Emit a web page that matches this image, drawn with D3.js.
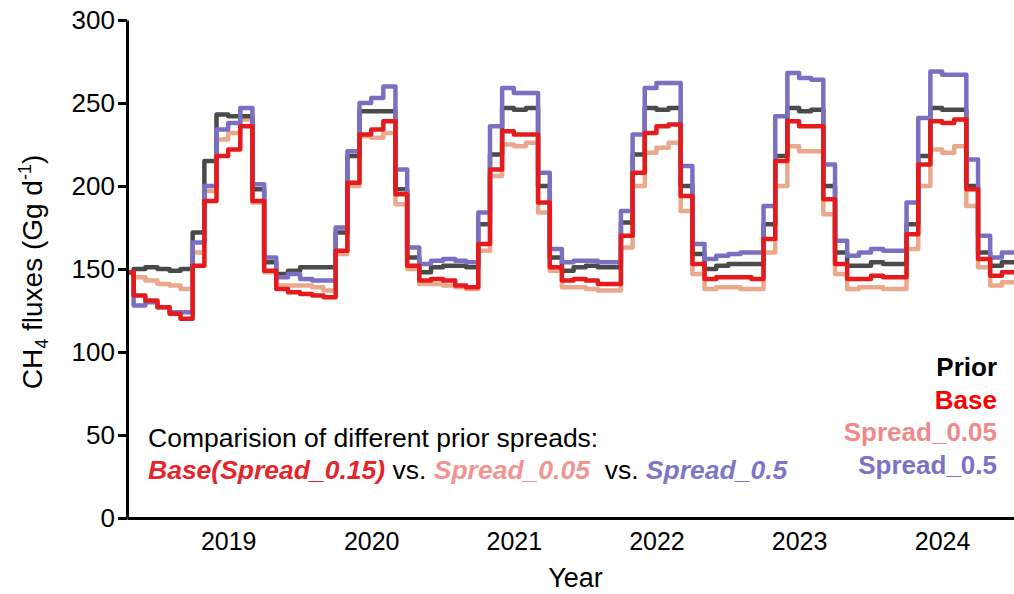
<!DOCTYPE html>
<html>
<head>
<meta charset="utf-8">
<script src="https://cdn.jsdelivr.net/npm/d3@7"></script>
<style>
  html, body { margin: 0; padding: 0; background: #fff; }
  svg { display: block; font-family: "Liberation Sans", Arial, Helvetica, sans-serif; }
</style>
</head>
<body>
<svg id="chart" width="1014" height="594"></svg>
<script>
// ---- Data (monthly, Oct 2018 .. Dec 2024) ----
const firstMonth = [2018, 9];      // year, month index (Oct 2018)
const firstDay = 22;               // series starts late in first month
const prior = [148,150,151,
  150,149,150,172,215,243,242,242,198,154,147,149,
  151,151,151,172,218,245,245,245,198,157,148,151,
  152,152,151,177,219,247,246,247,200,157,149,151,
  152,151,151,178,219,247,246,247,200,159,150,152,
  153,153,153,177,218,247,245,246,200,160,152,152,
  154,153,153,177,218,247,246,246,200,160,152,154];
const base = [148,134,131,
  127,123,120,152,191,218,222,236,191,149,138,136,
  135,134,133,161,202,231,234,239,195,152,143,144,
  143,140,139,165,210,233,231,231,190,151,143,144,
  143,141,141,170,208,232,236,237,194,153,144,145,
  145,145,144,168,215,239,236,236,192,153,144,144,
  146,145,145,171,213,239,238,240,198,156,146,148];
const spread005 = [148,145,143,
  141,140,138,160,197,228,232,240,190,148,140,140,
  140,139,137,159,200,230,229,232,189,150,141,141,
  140,139,138,161,206,225,224,226,184,149,139,139,
  138,137,137,163,200,220,223,226,185,147,138,139,
  139,138,138,160,200,224,221,221,183,147,138,139,
  139,138,138,162,200,222,220,224,188,151,140,142];
const spread05 = [148,128,130,
  127,124,124,166,200,234,238,247,201,157,145,147,
  144,143,143,175,221,250,253,260,210,163,153,155,
  156,155,154,184,236,259,256,256,208,162,154,155,
  155,154,154,185,231,259,262,262,212,165,156,158,
  159,160,160,188,242,268,265,264,213,167,158,160,
  162,161,161,190,241,269,267,267,216,170,157,160];
const yTicks = [0, 50, 100, 150, 200, 250, 300];
const yearLabels = [2019, 2020, 2021, 2022, 2023, 2024];
const seriesNames = ["Spread_0.05", "Prior", "Spread_0.5", "Base"];

// ---- Layout ----
const svg = d3.select("#chart");
const mLeft = 127, mRight = 1014, mTop = 20, mBottom = 518;

const x = d3.scaleTime()
  .domain([new Date(2018, 9, 15), new Date(2025, 0, 1)])
  .range([mLeft, mRight]);
const y = d3.scaleLinear().domain([0, 300]).range([mBottom, mTop]);

function toPoints(vals) {
  const pts = vals.map((v, i) => {
    const d = i === 0 ? new Date(firstMonth[0], firstMonth[1], firstDay)
                      : new Date(firstMonth[0], firstMonth[1] + i, 1);
    return { date: d, value: v };
  });
  pts.push({ date: new Date(firstMonth[0], firstMonth[1] + vals.length, 1), value: vals[vals.length - 1] });
  return pts;
}

const series = {
  "Spread_0.05": { vals: spread005, color: "#eaa98c" },
  "Prior":       { vals: prior,     color: "#4a4a4a" },
  "Spread_0.5":  { vals: spread05,  color: "#7a70c2" },
  "Base":        { vals: base,      color: "#e41a1c" }
};

const line = d3.line()
  .x(d => x(d.date))
  .y(d => y(d.value))
  .curve(d3.curveStepAfter);

const gLines = svg.append("g");
seriesNames.forEach(name => {
  gLines.append("path")
    .datum(toPoints(series[name].vals))
    .attr("fill", "none")
    .attr("stroke", series[name].color)
    .attr("stroke-width", 4.5)
    .attr("stroke-linejoin", "round")
    .attr("stroke-linecap", "round")
    .attr("d", line);
});

// ---- Axes ----
const yAxis = d3.axisLeft(y).tickValues(yTicks).tickSize(9).tickSizeOuter(0).tickPadding(3);
const gy = svg.append("g").attr("transform", `translate(${mLeft},0)`).call(yAxis);
gy.select(".domain").attr("stroke", "#000").attr("stroke-width", 3);
gy.selectAll(".tick line").attr("stroke", "#000").attr("stroke-width", 3);
gy.selectAll(".tick text").attr("font-size", 26).attr("fill", "#000")
  .attr("font-family", "'Liberation Sans', Arial, sans-serif");

const xAxis = d3.axisBottom(x)
  .tickValues(yearLabels.map(yr => new Date(yr, 6, 1)))
  .tickFormat(d3.timeFormat("%Y"))
  .tickSize(0).tickSizeOuter(0).tickPadding(14);
const gx = svg.append("g").attr("transform", `translate(0,${mBottom})`).call(xAxis);
gx.select(".domain").attr("stroke", "#000").attr("stroke-width", 3);
gx.selectAll(".tick text").attr("font-size", 25).attr("fill", "#000")
  .attr("font-family", "'Liberation Sans', Arial, sans-serif");

// Axis titles
svg.append("text")
  .attr("x", (mLeft + mRight) / 2 + 5).attr("y", 587)
  .attr("text-anchor", "middle").attr("font-size", 27).attr("fill", "#000")
  .text("Year");

const yt = svg.append("text")
  .attr("transform", `translate(42,${(mTop + mBottom) / 2 + 3}) rotate(-90)`)
  .attr("text-anchor", "middle").attr("font-size", 28).attr("fill", "#000");
yt.append("tspan").text("CH");
yt.append("tspan").attr("font-size", 18).attr("dy", 6).text("4");
yt.append("tspan").attr("dy", -6).text(" fluxes (Gg d");
yt.append("tspan").attr("font-size", 18).attr("dy", -11).text("-1");
yt.append("tspan").attr("dy", 11).text(")");

// ---- Legend ----
const legendItems = [
  { label: "Prior", color: "#000000" },
  { label: "Base", color: "#ff0000" },
  { label: "Spread_0.05", color: "#f08a8a" },
  { label: "Spread_0.5", color: "#7b72c6" }
];
svg.append("g").selectAll("text").data(legendItems).join("text")
  .attr("x", 997)
  .attr("y", (d, i) => 376 + i * 32.5)
  .attr("text-anchor", "end")
  .attr("font-size", 26).attr("font-weight", "bold")
  .attr("fill", d => d.color)
  .text(d => d.label);

// ---- Annotation ----
svg.append("text")
  .attr("x", 148).attr("y", 447)
  .attr("font-size", 26.5).attr("fill", "#000")
  .text("Comparision of different prior spreads:");

const ann = svg.append("text")
  .attr("x", 148).attr("y", 479)
  .attr("font-size", 26.5).attr("fill", "#000")
  .style("white-space", "pre");
ann.append("tspan").attr("font-weight", "bold").attr("font-style", "italic")
  .attr("fill", "#e4262b").text("Base(Spread_0.15)");
ann.append("tspan").text(" vs. ");
ann.append("tspan").attr("font-weight", "bold").attr("font-style", "italic")
  .attr("fill", "#f09494").text("Spread_0.05");
ann.append("tspan").text("  vs. ");
ann.append("tspan").attr("font-weight", "bold").attr("font-style", "italic")
  .attr("fill", "#7f76c6").text("Spread_0.5");
</script>
</body>
</html>
